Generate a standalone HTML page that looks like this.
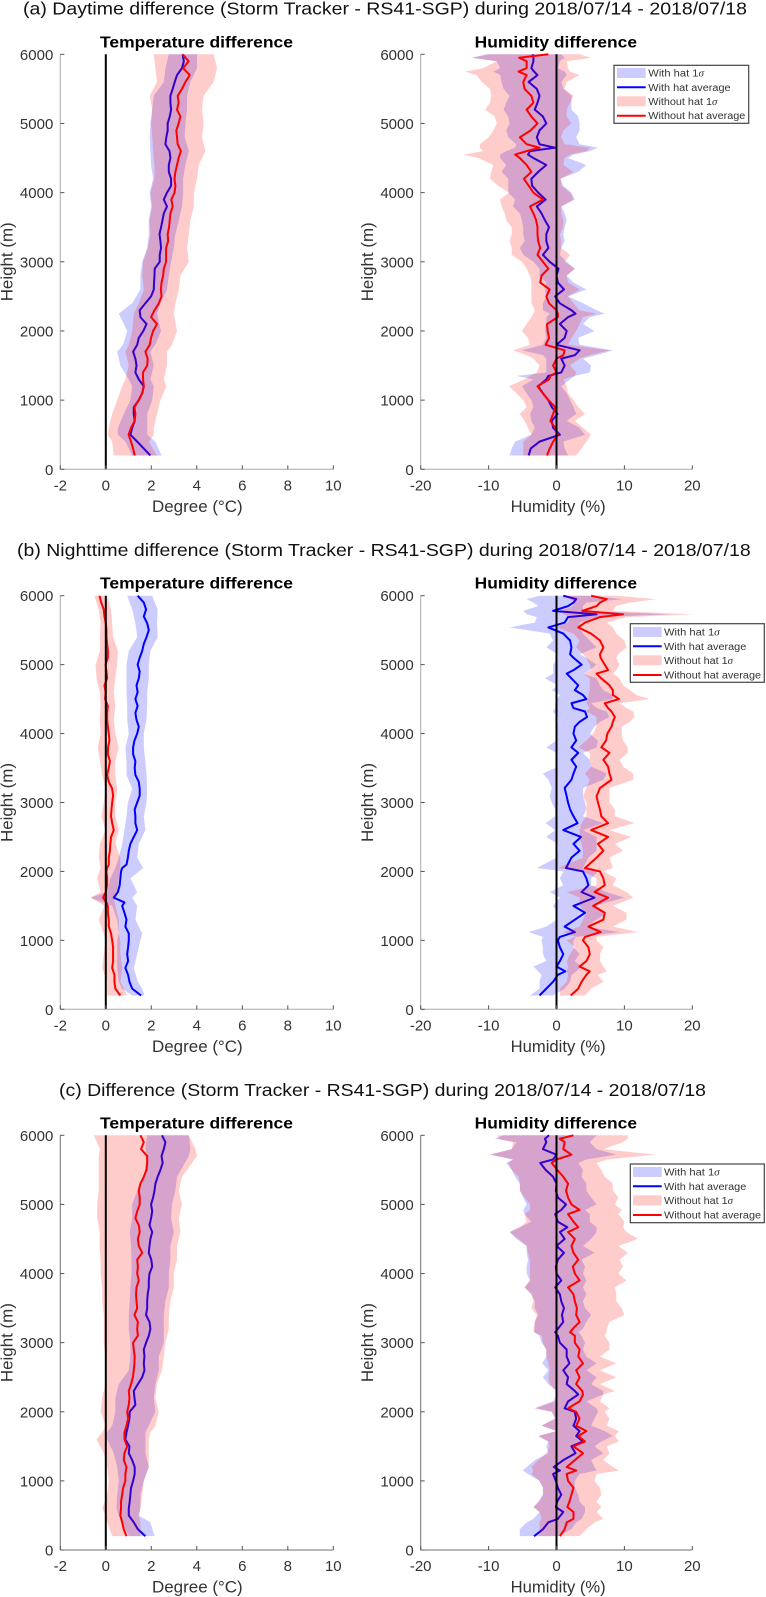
<!DOCTYPE html>
<html lang="en">
<head>
<meta charset="utf-8">
<title>Storm Tracker minus RS41-SGP differences</title>
<style>
html,body{margin:0;padding:0;background:#fff;}
svg{display:block;font-family:"Liberation Sans",Arial,sans-serif;}
.main{font-size:17.5px;fill:#111;}
.sub{font-size:16px;font-weight:bold;fill:#000;}
.lab{font-size:16.3px;fill:#333;}
.tick{font-size:15px;fill:#333;}
.leg{font-size:10px;fill:#333;}
</style>
</head>
<body>
<svg id="figure" width="766" height="1597" viewBox="0 0 766 1597" xmlns="http://www.w3.org/2000/svg">
<rect x="0" y="0" width="766" height="1597" fill="#fff"/>

<text class="main" x="23" y="14.7" textLength="724" lengthAdjust="spacingAndGlyphs">(a) Daytime difference (Storm Tracker - RS41-SGP) during 2018/07/14 - 2018/07/18</text>
<text class="main" x="17" y="556" textLength="733.7" lengthAdjust="spacingAndGlyphs">(b) Nighttime difference (Storm Tracker - RS41-SGP) during 2018/07/14 - 2018/07/18</text>
<text class="main" x="59" y="1096" textLength="647" lengthAdjust="spacingAndGlyphs">(c) Difference (Storm Tracker - RS41-SGP) during 2018/07/14 - 2018/07/18</text>

<g id="panel-a-temp"></g>
<g id="panel-a-hum"></g>
<g id="panel-b-temp"></g>
<g id="panel-b-hum"></g>
<g id="panel-c-temp"></g>
<g id="panel-c-hum"></g>

<text class="sub" x="100" y="47.5" textLength="193" lengthAdjust="spacingAndGlyphs">Temperature difference</text>
<text class="sub" x="474.7" y="47.5" textLength="162.3" lengthAdjust="spacingAndGlyphs">Humidity difference</text>
<text class="sub" x="100" y="588.7" textLength="193" lengthAdjust="spacingAndGlyphs">Temperature difference</text>
<text class="sub" x="474.7" y="588.7" textLength="162.3" lengthAdjust="spacingAndGlyphs">Humidity difference</text>
<text class="sub" x="100" y="1128.7" textLength="193" lengthAdjust="spacingAndGlyphs">Temperature difference</text>
<text class="sub" x="474.7" y="1128.7" textLength="162.3" lengthAdjust="spacingAndGlyphs">Humidity difference</text>

<text class="lab" x="152" y="511.8" textLength="90.7" lengthAdjust="spacingAndGlyphs">Degree (°C)</text>
<text class="lab" x="510.7" y="511.8" textLength="95" lengthAdjust="spacingAndGlyphs">Humidity (%)</text>
<text class="lab" x="152" y="1051.8" textLength="90.7" lengthAdjust="spacingAndGlyphs">Degree (°C)</text>
<text class="lab" x="510.7" y="1051.8" textLength="95" lengthAdjust="spacingAndGlyphs">Humidity (%)</text>
<text class="lab" x="152" y="1592.5" textLength="90.7" lengthAdjust="spacingAndGlyphs">Degree (°C)</text>
<text class="lab" x="510.7" y="1592.5" textLength="95" lengthAdjust="spacingAndGlyphs">Humidity (%)</text>

<text class="lab" transform="translate(12.7 301.3) rotate(-90)" textLength="79" lengthAdjust="spacingAndGlyphs">Height (m)</text>
<text class="lab" transform="translate(373 301.3) rotate(-90)" textLength="79" lengthAdjust="spacingAndGlyphs">Height (m)</text>
<text class="lab" transform="translate(12.7 842) rotate(-90)" textLength="79" lengthAdjust="spacingAndGlyphs">Height (m)</text>
<text class="lab" transform="translate(373 842) rotate(-90)" textLength="79" lengthAdjust="spacingAndGlyphs">Height (m)</text>
<text class="lab" transform="translate(12.7 1382.1) rotate(-90)" textLength="79" lengthAdjust="spacingAndGlyphs">Height (m)</text>
<text class="lab" transform="translate(373 1382.1) rotate(-90)" textLength="79" lengthAdjust="spacingAndGlyphs">Height (m)</text>

<g>
<rect x="614" y="65.3" width="134.7" height="58" fill="#fff" stroke="#444" stroke-width="1.2"/>
<rect x="617" y="68" width="28.7" height="10" fill="#ccccff"/>
<text class="leg" x="648.3" y="76.5" textLength="55.7" lengthAdjust="spacingAndGlyphs">With hat 1<tspan font-style="italic" font-family="Liberation Serif, serif">σ</tspan></text>
<line x1="617" x2="645.7" y1="87.3" y2="87.3" stroke="#0000ff" stroke-width="2"/>
<text class="leg" x="648.3" y="90.8" textLength="82.3" lengthAdjust="spacingAndGlyphs">With hat average</text>
<rect x="617" y="96.3" width="28.7" height="10" fill="#ffcccc"/>
<text class="leg" x="648.3" y="104.8" textLength="69" lengthAdjust="spacingAndGlyphs">Without hat 1<tspan font-style="italic" font-family="Liberation Serif, serif">σ</tspan></text>
<line x1="617" x2="645.7" y1="115.7" y2="115.7" stroke="#ff0000" stroke-width="2"/>
<text class="leg" x="648.3" y="119.2" textLength="97" lengthAdjust="spacingAndGlyphs">Without hat average</text>
</g>

<g>
<rect x="630.3" y="623.7" width="134" height="58.6" fill="#fff" stroke="#444" stroke-width="1.2"/>
<rect x="633" y="627" width="28.7" height="10" fill="#ccccff"/>
<text class="leg" x="664" y="635.5" textLength="55.7" lengthAdjust="spacingAndGlyphs">With hat 1<tspan font-style="italic" font-family="Liberation Serif, serif">σ</tspan></text>
<line x1="633" x2="661.7" y1="646.3" y2="646.3" stroke="#0000ff" stroke-width="2"/>
<text class="leg" x="664" y="649.8" textLength="82.3" lengthAdjust="spacingAndGlyphs">With hat average</text>
<rect x="633" y="655.3" width="28.7" height="10" fill="#ffcccc"/>
<text class="leg" x="664" y="663.8" textLength="69" lengthAdjust="spacingAndGlyphs">Without hat 1<tspan font-style="italic" font-family="Liberation Serif, serif">σ</tspan></text>
<line x1="633" x2="661.7" y1="675" y2="675" stroke="#ff0000" stroke-width="2"/>
<text class="leg" x="664" y="678.5" textLength="97" lengthAdjust="spacingAndGlyphs">Without hat average</text>
</g>

<g>
<rect x="630.3" y="1164" width="134" height="58.7" fill="#fff" stroke="#444" stroke-width="1.2"/>
<rect x="633" y="1167" width="28.7" height="10" fill="#ccccff"/>
<text class="leg" x="664" y="1175.5" textLength="55.7" lengthAdjust="spacingAndGlyphs">With hat 1<tspan font-style="italic" font-family="Liberation Serif, serif">σ</tspan></text>
<line x1="633" x2="661.7" y1="1186.3" y2="1186.3" stroke="#0000ff" stroke-width="2"/>
<text class="leg" x="664" y="1189.8" textLength="82.3" lengthAdjust="spacingAndGlyphs">With hat average</text>
<rect x="633" y="1195.3" width="28.7" height="10" fill="#ffcccc"/>
<text class="leg" x="664" y="1203.8" textLength="69" lengthAdjust="spacingAndGlyphs">Without hat 1<tspan font-style="italic" font-family="Liberation Serif, serif">σ</tspan></text>
<line x1="633" x2="661.7" y1="1215" y2="1215" stroke="#ff0000" stroke-width="2"/>
<text class="leg" x="664" y="1218.5" textLength="97" lengthAdjust="spacingAndGlyphs">Without hat average</text>
</g>
</svg>

<script>
// ---------- axis tick values ----------
const heightTicks = [0,1000,2000,3000,4000,5000,6000];
const tempTicks = [-2,0,2,4,6,8,10];
const humidityTicks = [-20,-10,0,10,20];

// ---------- shared height levels for the temperature averages (m) ----------
const tempLevels = [6000,5900,5800,5700,5600,5500,5400,5300,5200,5100,5000,4900,4800,4700,4600,4500,4400,4300,4200,4100,4000,3900,3800,3700,3600,3500,3400,3300,3200,3100,3000,2900,2800,2700,2600,2500,2400,2300,2200,2100,2000,1900,1800,1700,1600,1500,1400,1300,1200,1100,1000,900,800,700,600,500,400,300,200];

// ---------- (a) daytime temperature ----------
const aTempWithAvg = [3.38,3.43,3.35,3.13,3.03,2.94,2.84,2.84,2.87,2.81,2.72,2.72,2.66,2.62,2.8,2.84,2.77,2.77,2.87,2.87,2.69,2.55,2.69,2.55,2.49,2.43,2.36,2.4,2.43,2.37,2.37,2.15,2.14,2.12,2.11,1.99,1.74,1.49,1.52,1.79,1.65,1.45,1.38,1.2,1.3,1.35,1.3,1.45,1.67,1.6,1.45,1.23,1.23,1.27,1.16,1.08,1.38,1.67,1.96];
const aTempWithoutAvg = [3.38,3.64,3.4,3.69,3.5,3.35,3.16,3.2,3.13,3.28,3.2,3.1,3.13,3.16,3.3,3.2,3.13,3.06,3.02,3.06,3.02,2.88,2.94,2.84,2.81,2.78,2.72,2.74,2.65,2.65,2.65,2.55,2.52,2.45,2.42,2.45,2.33,2.14,1.99,2.25,2.08,1.99,1.93,1.74,1.84,1.82,1.63,1.64,1.67,1.6,1.45,1.26,1.3,1.27,1.11,1.0,1.11,1.2,1.27];
const aTempBandLevels = [6000,5800,5600,5400,5200,5000,4800,4600,4400,4200,4000,3800,3600,3400,3200,3000,2800,2600,2400,2250,2000,1800,1700,1500,1300,1200,1000,800,600,500,400,200];
const aTempWithLo = [2.77,2.62,2.55,2.11,2.04,1.96,1.93,1.96,1.99,2.08,1.93,1.99,1.89,1.89,1.82,1.6,1.52,1.52,1.16,.57,.94,.76,.5,.64,1.01,1.16,1.08,.79,.53,.53,.86,1.16];
const aTempWithHi = [4.01,4.01,3.72,3.57,3.57,3.5,3.47,3.65,3.5,3.4,3.4,3.35,3.21,3.06,2.99,2.87,2.77,2.69,2.4,2.25,2.43,2.18,1.96,2.11,1.96,2.11,2.04,1.82,1.82,1.82,2.18,2.45];
const aTempWithoutLo = [2.11,2.18,2.25,1.93,2.04,1.99,2.04,2.08,2.14,2.14,1.96,2.04,1.92,1.96,1.84,1.64,1.6,1.67,1.45,1.23,1.16,1.01,.86,1.01,.86,.72,.5,.28,.13,.09,.28,.35];
const aTempWithoutHi = [4.74,4.89,4.74,4.3,4.23,4.3,4.23,4.38,4.08,4.01,3.87,3.87,3.72,3.65,3.57,3.65,3.28,3.21,3.06,2.99,3.13,2.91,2.69,2.69,2.55,2.66,2.4,2.25,2.11,2.11,1.89,2.25];

// ---------- (a) daytime humidity ----------
const aHumLevels = [6000,5950,5900,5800,5750,5700,5600,5500,5400,5300,5200,5100,5000,4900,4800,4700,4650,4600,4550,4500,4400,4300,4200,4100,4000,3900,3800,3700,3600,3500,3400,3300,3200,3100,3000,2900,2800,2700,2600,2500,2400,2300,2250,2200,2100,2000,1900,1800,1720,1650,1600,1500,1400,1350,1300,1200,1100,1000,900,800,700,600,500,400,300,200];
const aHumWithAvg = [-3.5,-3.4,-3.4,-3.7,-3.3,-2.8,-4.1,-2.9,-2.5,-2.8,-3.2,-2,-1.5,-2.5,-2.9,-2.5,-.2,-3.9,-4.2,-3.4,-1.5,-2.7,-3.7,-3.6,-2.7,-1.6,-2.9,-2.2,-1.7,-1.1,-1.5,-1.5,-1.2,-2,-1,.3,0,.2,1.1,-.2,.5,2.2,2.8,1.7,.5,1.5,1.2,0,3.4,2.7,.7,1.2,.7,-1.2,-1.5,-2.7,-2,-1.2,-.7,.15,-.7,-.5,.5,-2.5,-3.8,-4.1];
const aHumWithoutAvg = [-1.2,-5.5,-4.4,-4.4,-5.6,-4.4,-4.9,-4.7,-3.7,-3.4,-4.4,-3.7,-2.8,-3.8,-5.4,-4.4,-2.5,-4.4,-6.1,-5.4,-4.4,-3.7,-4.8,-4.1,-3.4,-2,-3.9,-3.4,-3,-2.8,-2.8,-2.7,-2.4,-2.8,-2,-1.2,-2.2,-2.4,-1,-1.5,-1.1,0,.2,.2,-1.4,-1.3,-1.1,-1.6,1.2,1,0,-.5,0,-.9,-1.1,-2.8,-2,-1.2,-.2,-.5,-.9,-.2,.2,-.5,-1,-1.4];
const aHumWithLo = [-10.3,-12.5,-8.8,-8.3,-9.3,-8.3,-8.1,-7.8,-6.9,-7.4,-7.8,-7.1,-6.9,-7.4,-7.1,-5.9,-6.1,-7.4,-8.3,-8.3,-7.4,-8.1,-7.1,-7.1,-7.1,-6.1,-6.4,-5.4,-5.1,-4.9,-4.9,-4.7,-5.4,-4.9,-3.4,-2.5,-2.5,-1.5,-1.7,-1.5,-2,-2,-1,-1.5,-1.5,-1.7,-1.5,-2,-5.1,-2,-1.5,-1.5,-1.5,-5.9,-3.4,-5.1,-4.4,-3.7,-3.4,-3.9,-3.7,-3.2,-3.7,-6.1,-6.6,-6.9];
const aHumWithHi = [.7,1.2,.5,.2,1.2,1.5,.7,1,2.2,2.2,2.2,3.2,3.4,3.4,2.9,3.4,6.1,4.9,2.5,1.7,4.4,3.2,.5,1,2.2,2.7,.7,1.2,1.5,1.2,1,1.2,.7,.5,1.5,2.7,1.5,2.5,4.4,1.7,3.9,5.9,7.1,4.9,3.9,5.6,3.2,3.4,8.3,5.9,3.9,5.1,4.9,2.7,2,.7,1.5,2,2.5,2.9,1.5,3.4,4.2,1,1.2,1.7];
const aHumWithoutLo = [-9.8,-12.5,-8.8,-10.8,-13.5,-11.8,-11,-9.8,-9.6,-9.8,-10.5,-9.1,-8.8,-9.3,-10,-11.3,-11.3,-10.8,-13.7,-11.5,-9.3,-9.6,-9.8,-8.6,-7,-8.3,-8.1,-7.6,-7.4,-6.6,-6.6,-6.9,-6.6,-6.6,-5.1,-4.4,-3.9,-3.7,-3.7,-3.7,-3.7,-3.2,-3.4,-3.7,-4.4,-5.1,-4.2,-3.9,-6.4,-4.4,-3.4,-2.5,-2.9,-3.9,-4.7,-7,-5.9,-4.9,-4.4,-5.4,-4.7,-4.2,-3.7,-4.9,-4.9,-4.9];
const aHumWithoutHi = [3.4,5.1,1.5,1.7,2,3.4,1.5,1.2,2.5,2,1.5,1.5,2.2,1,.7,1.2,4.9,4.4,2,1.2,1,2.5,.7,.7,2,2.5,.7,.7,1,1,.5,.7,.7,2,1.2,2.7,1.5,1.7,3.4,1.7,2.5,3.4,5.9,3.9,3.4,2.9,2.2,1.7,7.8,4.9,3.4,2,2.9,2.7,1,1.5,1.7,2.5,3.2,4.2,2.7,3.9,5.1,4.4,3.7,2.9];

// ---------- (b) nighttime temperature ----------
const bTempLevels = [6000,5900,5800,5700,5600,5500,5400,5300,5200,5100,5000,4900,4800,4700,4600,4500,4400,4300,4200,4100,4000,3900,3800,3700,3600,3500,3400,3300,3200,3100,3000,2900,2800,2700,2600,2500,2400,2300,2200,2100,2050,2000,1900,1800,1700,1620,1550,1500,1400,1300,1200,1100,1000,900,800,700,600,500,400,300,200];
const bTempWithAvg = [1.4,1.67,1.77,1.67,1.82,1.89,1.79,1.67,1.6,1.49,1.4,1.49,1.45,1.35,1.4,1.3,1.4,1.3,1.35,1.45,1.38,1.26,1.2,1.2,1.3,1.27,1.3,1.45,1.49,1.49,1.38,1.27,1.3,1.3,1.38,1.23,1.08,1.01,.97,.91,.72,.67,.64,.61,.53,.35,.82,.72,.82,.91,.86,1.01,1.01,.98,.94,.98,.86,.98,1.04,1.16,1.55];
const bTempWithoutAvg = [-.28,-.2,-.09,-.06,0,.03,.03,.06,.09,.09,-.01,.03,.06,-.06,-.01,-.03,.09,.06,.06,.09,.13,.16,.1,.09,.18,.13,.06,.13,.28,.32,.28,.25,.23,.28,.35,.23,.2,.18,.13,.13,.06,.03,.06,.06,0,-.12,.03,.09,.09,.13,.13,.23,.28,.32,.32,.32,.28,.38,.38,.42,.64];
const bTempBandLevels = [6000,5800,5600,5400,5200,5000,4800,4600,4400,4200,4000,3800,3600,3400,3200,3000,2800,2600,2400,2200,2050,1900,1700,1620,1500,1300,1100,1000,800,600,400,300,200];
const bTempWithLo = [.94,1.16,1.3,1.38,1.01,.91,.91,.91,.94,.94,1.01,.86,.91,.91,1.16,.97,.91,.82,.72,.57,.42,.2,.06,-.67,.28,.5,.57,.5,.5,.5,.57,.72,1.16];
const bTempWithHi = [2.04,2.28,2.25,2.28,1.96,1.89,1.89,1.82,1.82,1.79,1.67,1.67,1.74,1.79,1.82,1.79,1.67,1.74,1.45,1.38,1.64,1.08,1.38,1.16,1.38,1.3,1.6,1.52,1.38,1.23,1.41,1.6,1.7];
const bTempWithoutLo = [-.5,-.31,-.23,-.26,-.26,-.45,-.41,-.26,-.23,-.26,-.23,-.35,-.26,-.16,-.01,-.09,-.19,-.01,-.26,-.31,-.23,-.38,-.23,-.67,-.06,-.31,-.09,-.01,-.09,-.16,.06,.06,.06];
const bTempWithoutHi = [.06,.23,.28,.32,.53,.5,.42,.35,.42,.35,.42,.57,.42,.42,.5,.42,.42,.57,.42,.64,.64,.57,.5,.35,.42,.57,.57,.64,.64,.72,.64,.79,.94];

// ---------- (b) nighttime humidity ----------
const bHumLevels = [6000,5950,5900,5850,5780,5730,5690,5610,5540,5450,5350,5250,5150,5100,5000,4920,4870,4800,4700,4630,4560,4500,4440,4370,4320,4240,4170,4100,4000,3900,3800,3720,3620,3520,3420,3330,3210,3090,3000,2900,2800,2700,2600,2500,2400,2300,2200,2050,2000,1900,1800,1700,1620,1500,1400,1300,1200,1120,1050,1000,900,800,700,620,550,500,400,300,200];
const bHumWithAvg = [1,2.9,2.5,1.7,-.5,5.9,1.7,1.2,-1.2,1,2,2.2,2,2.5,3.7,2.5,1.5,2.2,3.2,2.7,3.9,4.4,2.2,2.5,4.2,4.5,3.4,2.7,2.5,2.9,2.2,3.2,2.2,2.9,2.5,2.2,1.2,1.5,1.7,2,2.5,3.1,1,3.6,2.5,3.4,2.2,1.4,3.9,4.4,4.7,3.7,5.6,2.5,4.2,2.7,1.2,2.7,.5,.2,.5,1,.5,0,1.3,.2,-.5,-1.5,-2.5];
const bHumWithoutAvg = [5.1,7.4,6.4,5.9,3.8,9.8,6.4,4.2,3.2,5.1,6.4,6.9,6.4,6.5,7.1,7.6,5.9,6.6,7.8,8.3,8.3,9.2,7.1,7.6,8.1,8.6,8.3,8.1,7.5,7.3,6.6,7.8,6.9,7.6,7.8,8.1,6.4,5.9,6.1,6.4,6.6,7.6,5.1,7.6,6.1,6.9,5.9,4.2,6.4,6.9,7.1,5.6,7.6,5.4,7.1,6.9,4.7,6.5,4.2,3.9,4.7,4.9,4.4,3.4,4.9,4.4,3.7,3.2,2.1];
const bHumWithLo = [-2.5,-4.4,-3.4,-2.7,-4.9,-4.4,-2.9,-3.2,-6.9,-1,-.5,-1.5,.2,.2,-.5,-.5,-.5,-1.7,.2,-.7,.5,0,-.2,-.2,-.5,.2,.2,-.2,0,0,-1.5,0,-.2,.2,-2,-1.2,-.7,-1,-.7,-.2,-.2,-1.6,-.2,-1.5,.2,.2,0,-2.9,1,.5,1,-1,.5,-.5,.2,0,-1.5,-4.1,-2,-2.2,-2,-2,-1.5,-3.4,-2.7,-2.2,-2.5,-2.5,-3.9];
const bHumWithHi = [4.7,9.8,4.4,3.9,3.9,16.7,5.9,3.4,3.4,3.9,4.9,5.9,3.4,4.4,5.9,4.9,3.9,5.9,6.4,6.9,8.3,8.3,5.1,5.9,7.4,7.8,6.4,5.6,4.9,6.1,5.9,3.9,4.9,5.1,7.4,6.9,3.9,3.9,4.2,4.4,3.9,6.9,3.9,5.9,5.9,5.9,4.7,3.9,6.1,5.1,5.1,7.4,10,5.6,7.4,5.9,4.4,9.3,2.9,2.5,2.5,3.4,2.7,3.7,2.9,2.2,2,1.2,-.5];
const bHumWithoutLo = [1.2,2,2.7,2.5,.7,1,2,1.7,0,2.5,3.4,2.9,3.9,4.4,4.9,5.1,3.9,4.9,4.9,4.9,4.7,4.7,4.4,4.9,4.4,5.9,5.9,5.9,5.4,4.4,3.2,4.9,4.9,5.1,4.2,4.9,4.4,3.9,4.4,4.4,4.4,3.7,3.4,3.4,3.7,3.9,3.9,.2,3.9,5.9,5.9,1.5,3.4,3.4,4.4,3.9,3.4,1,2.9,1.5,2.7,2,1.5,1.7,1.5,1.7,1.5,.5,.5];
const bHumWithoutHi = [8.8,14.7,10.8,8.8,8.3,20.1,10.3,7.4,8.3,8.8,10,10.3,9.1,8.8,9.3,8.8,8.3,9.3,9.8,10.8,11.8,13.7,9.3,10.3,11.3,11.5,10.8,9.6,9.6,9.8,10.5,10.5,9.3,9.8,11.3,11.3,7.8,7.8,7.8,8.6,8.6,11.5,7.8,11,8.6,9.8,7.8,8.3,6.9,8.8,8.3,10.3,11.3,8.3,10.3,10.3,8.3,12,5.9,5.9,6.9,6.4,6.4,6.9,7.4,6.1,6.9,5.1,4.2];

// ---------- (c) overall temperature ----------
const cTempWithAvg = [2.47,2.62,2.55,2.45,2.5,2.4,2.28,2.18,2.14,2.08,1.99,2.04,1.99,1.92,2.04,1.96,1.92,1.89,2,2.04,1.92,1.89,1.89,1.84,1.82,1.82,1.77,1.92,1.96,1.89,1.77,1.67,1.7,1.67,1.7,1.6,1.41,1.23,1.26,1.3,1.05,1.04,.98,.91,.86,1.04,1.01,1.16,1.27,1.27,1.2,1.11,1.08,1.05,1.01,1.01,1.23,1.41,1.74];
const cTempWithoutAvg = [1.52,1.67,1.55,1.82,1.82,1.79,1.67,1.52,1.45,1.49,1.49,1.38,1.3,1.45,1.49,1.41,1.45,1.6,1.38,1.41,1.38,1.45,1.35,1.33,1.35,1.38,1.26,1.41,1.38,1.41,1.2,1.23,1.27,1.26,1.23,1.19,1.11,1.01,1.04,1.01,.94,.98,.91,.82,.82,.94,.82,.79,.91,.86,.86,.76,.72,.67,.67,.64,.72,.79,.91];
const cTempBandLevels = [6000,5800,5700,5400,5200,5000,4800,4600,4400,4200,4000,3800,3600,3400,3200,3000,2800,2600,2400,2200,2000,1800,1700,1600,1400,1200,1000,800,600,500,400,200];
const cTempWithLo = [1.82,1.74,1.82,1.67,1.38,1.16,1.16,1.05,1.11,1.13,1.13,1.08,1.05,1.01,1.01,1.08,1.08,1.01,.57,.42,.42,.28,.06,.06,.35,.5,.57,.5,.47,.57,.72,1.01];
const cTempWithHi = [3.65,3.72,3.65,3.13,3.06,2.91,2.87,2.99,2.84,2.84,2.77,2.77,2.62,2.55,2.55,2.55,2.33,2.33,2.18,2.11,2.18,1.89,1.74,1.74,1.74,1.89,1.67,1.52,1.52,1.45,1.96,2.14];
const cTempWithoutLo = [-.53,-.26,-.31,-.31,-.31,-.38,-.38,-.26,-.28,-.23,-.23,-.16,-.16,-.09,-.09,-.09,-.01,-.01,-.01,-.16,-.23,-.01,-.16,-.41,-.09,.06,.13,.06,-.16,-.01,.06,.28];
const cTempWithoutHi = [3.65,3.94,4.01,3.35,3.21,3.35,3.21,3.28,3.13,3.13,2.99,2.99,2.84,2.77,2.77,2.62,2.55,2.47,2.25,2.18,2.33,2.18,1.96,1.89,1.89,1.89,1.67,1.6,1.52,1.45,1.52,1.52];

// ---------- (c) overall humidity ----------
const cHumLevels = [6000,5950,5900,5800,5720,5650,5600,5500,5400,5300,5200,5100,5000,4920,4860,4750,4670,4600,4500,4400,4300,4200,4100,4000,3900,3800,3700,3600,3500,3400,3300,3200,3150,3100,3000,2900,2800,2700,2600,2500,2400,2300,2250,2150,2050,2000,1900,1800,1720,1650,1570,1500,1400,1300,1200,1150,1100,1000,900,800,700,620,550,450,400,300,200];
const cHumWithAvg = [-1.1,-1.7,-1.5,-2,0,-.5,-2.4,-1.6,-.5,0,-.1,.2,1.4,.7,-.2,.2,1.6,.5,1.2,0,1.1,.2,-.1,0,.7,-.2,.5,.7,1.1,.8,1,.2,-.2,.2,.5,1.5,1.5,1.9,1,1.7,1.5,2.7,3.2,1.7,1.2,2.7,2.9,2.5,3.4,2.9,3.9,2.2,2.8,1,-.4,.5,-.5,-.1,.2,.7,.1,-.1,1,.2,-1.2,-2,-3.3];
const cHumWithoutAvg = [2.5,.5,1.2,1,2.2,0,-.7,.1,1,1.7,1.4,1.7,2.2,3.4,1.7,2.5,3.2,1.7,2.7,2.2,2.5,3.2,2.4,2.7,3.4,1.7,2.5,2.7,3,2.9,3.4,2.4,2,2.7,2.7,3.4,3.2,3.9,2.9,3.4,2.9,3.8,3.9,3.4,1.7,2.9,3.4,2.9,4.4,3.2,4.2,2.5,3.9,2.7,1.5,2.9,1.5,1.7,2.5,2.2,1.9,1.6,2.5,2.5,1.5,1.2,.5];
const cHumWithLo = [-7.8,-9.1,-5.9,-6.6,-9.8,-6.4,-7.4,-6.6,-6.1,-5.4,-5.4,-4.9,-4.4,-4.9,-4.7,-3.7,-5.4,-6.9,-5.9,-4.4,-4.4,-4.2,-4.4,-4.4,-3.9,-4.7,-3.7,-3.2,-3.2,-2.7,-3.2,-3.2,-3.3,-2.5,-2.2,-1.5,-1.5,-2.1,-1.2,-2,-1.2,0,0,-.5,-3.2,-.7,-.2,-2.2,0,-2.7,-1.2,-1.5,-1.2,-3.2,-4.4,-5,-4.2,-2.5,-2,-2,-2.7,-3.4,-2.5,-3.4,-4.4,-5.4,-5.4];
const cHumWithHi = [5.9,5.4,4.9,5.9,8.8,4.4,3.2,3.9,3.7,4.4,4.4,5.1,5.9,4.2,4.9,4.9,5.9,5.9,5.1,3.9,5.6,3.7,4.2,3.9,4.4,3.9,4.4,3.9,4.2,5.1,4.4,3.9,3.2,3.7,4.2,3.9,4.4,5.9,4.4,5.9,5.1,6.9,6.9,4.4,5.9,6.1,5.6,5.1,7.1,8.3,6.6,5.6,6.9,5.1,5.6,5.9,3.4,2.7,2.7,3.2,3.4,4.2,4.2,3.7,2.9,2.2,.2];
const cHumWithoutLo = [-8.6,-8.6,-6.4,-6.6,-9.8,-6.4,-7.1,-6.6,-5.6,-5.4,-5.4,-4.7,-3.9,-3.9,-4.7,-4.4,-5.4,-6.9,-5.6,-4.4,-4.2,-3.9,-3.9,-3.9,-3.9,-4.7,-3.7,-3.4,-3.7,-2.9,-3.2,-3.4,-3.3,-2.2,-2,-1.5,-1.5,-1.2,-1,-1.2,-1,0,0,-.2,-3.2,-.7,-.2,-2.2,0,-2.7,-1.2,-1,-1.5,-2.7,-3.7,-3.4,-3.7,-2.5,-2,-2,-2.5,-3.4,-2.5,-2.2,-2.5,-2.5,-2.5];
const cHumWithoutHi = [10.5,10.5,9.8,6.9,14.5,7.4,5.9,6.6,7.1,8.3,8.3,9.1,8.6,9.6,9.1,10,9.8,10.3,12,9.1,10.5,9.3,9.8,9.1,10.3,8.6,8.8,8.8,9.6,10,7.8,7.4,7.4,7.1,7.8,7.8,6.4,8.8,6.4,8.8,6.4,8.6,6.9,6.4,7.8,7.1,7.8,7.4,9.2,8.6,9.2,7.4,7.8,6.9,8.3,9.2,5.9,5.6,6.4,6.6,5.9,6.6,5.9,6.9,5.6,4.4,3.4];

// ---------- drawing ----------
const SVGNS = 'http://www.w3.org/2000/svg';
const fmtPoints = (xs, ys) => xs.map((x, i) => x.toFixed(2) + ',' + ys[i].toFixed(2)).join(' ');

function drawPanel(cfg) {
  const root = document.getElementById(cfg.id);
  const xScale = v => cfg.x0 + (v - cfg.xMin) / (cfg.xMax - cfg.xMin) * (cfg.x1 - cfg.x0);
  const yScale = h => cfg.bottom - h / 6000 * (cfg.bottom - cfg.top);

  function addBand(levels, lo, hi, color) {
    const n = Math.min(levels.length, lo.length, hi.length);
    const xs = [], ys = [];
    for (let i = 0; i < n; i++) { xs.push(xScale(hi[i])); ys.push(yScale(levels[i])); }
    for (let i = n - 1; i >= 0; i--) { xs.push(xScale(lo[i])); ys.push(yScale(levels[i])); }
    const band = document.createElementNS(SVGNS, 'polygon');
    
    
    band.setAttribute('points', fmtPoints(xs, ys));
    band.setAttribute('fill', color);
    band.setAttribute('fill-opacity', '0.2');
    root.appendChild(band);
  }
  function addLine(levels, avg, color) {
    const n = Math.min(levels.length, avg.length);
    const xs = [], ys = [];
    for (let i = 0; i < n; i++) { xs.push(xScale(avg[i])); ys.push(yScale(levels[i])); }
    const line = document.createElementNS(SVGNS, 'polyline');
    
    
    line.setAttribute('points', fmtPoints(xs, ys));
    line.setAttribute('fill', 'none');
    line.setAttribute('stroke', color);
    line.setAttribute('stroke-width', '2');
    line.setAttribute('stroke-linejoin', 'round');
    root.appendChild(line);
  }

  addBand(cfg.bandLevels, cfg.withLo, cfg.withHi, '#0000ff');
  addLine(cfg.avgLevels, cfg.withAvg, '#0000ff');
  addBand(cfg.bandLevels, cfg.withoutLo, cfg.withoutHi, '#ff0000');
  addLine(cfg.avgLevels, cfg.withoutAvg, '#ff0000');

  const zero = document.createElementNS(SVGNS, 'line');
  
  
  zero.setAttribute('x1', xScale(0));
  zero.setAttribute('x2', xScale(0));
  zero.setAttribute('y1', cfg.top);
  zero.setAttribute('y2', cfg.bottom);
  zero.setAttribute('stroke', '#000');
  zero.setAttribute('stroke-width', '2');
  root.appendChild(zero);

  const axisColor = cfg.axisColor;
  const yAxis = document.createElementNS(SVGNS, 'line');
  
  
  yAxis.setAttribute('x1', cfg.x0);
  yAxis.setAttribute('x2', cfg.x0);
  yAxis.setAttribute('y1', cfg.top);
  yAxis.setAttribute('y2', cfg.bottom);
  yAxis.setAttribute('stroke', axisColor);
  root.appendChild(yAxis);

  const xAxis = document.createElementNS(SVGNS, 'line');
  
  
  xAxis.setAttribute('x1', cfg.x0);
  xAxis.setAttribute('x2', cfg.x1);
  xAxis.setAttribute('y1', cfg.bottom);
  xAxis.setAttribute('y2', cfg.bottom);
  xAxis.setAttribute('stroke', axisColor);
  root.appendChild(xAxis);

  heightTicks.forEach(h => {
    const tick = document.createElementNS(SVGNS, 'line');
    
    
    tick.setAttribute('x1', cfg.x0);
    tick.setAttribute('x2', cfg.x0 + 4);
    tick.setAttribute('y1', yScale(h));
    tick.setAttribute('y2', yScale(h));
    tick.setAttribute('stroke', '#555');
    root.appendChild(tick);

    const label = document.createElementNS(SVGNS, 'text');
    
    
    label.setAttribute('class', 'tick');
    label.setAttribute('x', cfg.x0 - 7);
    label.setAttribute('y', yScale(h) + 5.5);
    label.setAttribute('text-anchor', 'end');
    label.textContent = String(h);
    root.appendChild(label);
  });

  cfg.xTicks.forEach(v => {
    const tick = document.createElementNS(SVGNS, 'line');
    
    
    tick.setAttribute('x1', xScale(v));
    tick.setAttribute('x2', xScale(v));
    tick.setAttribute('y1', cfg.bottom);
    tick.setAttribute('y2', cfg.bottom - 4);
    tick.setAttribute('stroke', '#555');
    root.appendChild(tick);

    const label = document.createElementNS(SVGNS, 'text');
    
    
    label.setAttribute('class', 'tick');
    label.setAttribute('x', xScale(v));
    label.setAttribute('y', cfg.bottom + 21);
    label.setAttribute('text-anchor', 'middle');
    label.textContent = String(v);
    root.appendChild(label);
  });
}

const leftCol = {x0: 60.3, x1: 333.3, xMin: -2, xMax: 10, xTicks: tempTicks};
const rightCol = {x0: 420.7, x1: 692.3, xMin: -20, xMax: 20, xTicks: humidityTicks};
const rowA = {top: 54.3, bottom: 469.3, axisColor: '#a8a8a8'};
const rowB = {top: 595.7, bottom: 1009.3, axisColor: '#a8a8a8'};
const rowC = {top: 1135.3, bottom: 1550, axisColor: '#707070'};

drawPanel(Object.assign({id: 'panel-a-temp', avgLevels: tempLevels, bandLevels: aTempBandLevels, withAvg: aTempWithAvg, withoutAvg: aTempWithoutAvg, withLo: aTempWithLo, withHi: aTempWithHi, withoutLo: aTempWithoutLo, withoutHi: aTempWithoutHi}, leftCol, rowA));
drawPanel(Object.assign({id: 'panel-a-hum', avgLevels: aHumLevels, bandLevels: aHumLevels, withAvg: aHumWithAvg, withoutAvg: aHumWithoutAvg, withLo: aHumWithLo, withHi: aHumWithHi, withoutLo: aHumWithoutLo, withoutHi: aHumWithoutHi}, rightCol, rowA));
drawPanel(Object.assign({id: 'panel-b-temp', avgLevels: bTempLevels, bandLevels: bTempBandLevels, withAvg: bTempWithAvg, withoutAvg: bTempWithoutAvg, withLo: bTempWithLo, withHi: bTempWithHi, withoutLo: bTempWithoutLo, withoutHi: bTempWithoutHi}, leftCol, rowB));
drawPanel(Object.assign({id: 'panel-b-hum', avgLevels: bHumLevels, bandLevels: bHumLevels, withAvg: bHumWithAvg, withoutAvg: bHumWithoutAvg, withLo: bHumWithLo, withHi: bHumWithHi, withoutLo: bHumWithoutLo, withoutHi: bHumWithoutHi}, rightCol, rowB));
drawPanel(Object.assign({id: 'panel-c-temp', avgLevels: tempLevels, bandLevels: cTempBandLevels, withAvg: cTempWithAvg, withoutAvg: cTempWithoutAvg, withLo: cTempWithLo, withHi: cTempWithHi, withoutLo: cTempWithoutLo, withoutHi: cTempWithoutHi}, leftCol, rowC));
drawPanel(Object.assign({id: 'panel-c-hum', avgLevels: cHumLevels, bandLevels: cHumLevels, withAvg: cHumWithAvg, withoutAvg: cHumWithoutAvg, withLo: cHumWithLo, withHi: cHumWithHi, withoutLo: cHumWithoutLo, withoutHi: cHumWithoutHi}, rightCol, rowC));
</script>
</body>
</html>
